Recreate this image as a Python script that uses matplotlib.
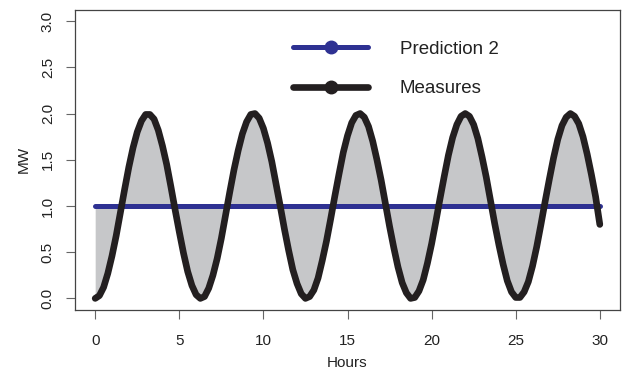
import numpy as np
import matplotlib
matplotlib.use("Agg")
import matplotlib.pyplot as plt

plt.rcParams['font.family'] = ['Liberation Sans', 'DejaVu Sans']

# hourly grid (quarter hours) and values
hours = np.arange(0, 30.01, 0.25)
measures = [0.00, 0.03, 0.12, 0.27, 0.46, 0.68, 0.93, 1.18, 1.42, 1.63, 1.80, 1.92,
            1.99, 1.99, 1.94, 1.82, 1.65, 1.45, 1.21, 0.96, 0.72, 0.49, 0.29, 0.14,
            0.04, 0.00, 0.02, 0.11, 0.25, 0.43, 0.65, 0.90, 1.15, 1.39, 1.60, 1.78,
            1.91, 1.99, 2.00, 1.95, 1.84, 1.68, 1.48, 1.24, 1.00, 0.75, 0.52, 0.31,
            0.16, 0.05, 0.00, 0.02, 0.09, 0.22, 0.41, 0.62, 0.86, 1.11, 1.35, 1.58,
            1.76, 1.90, 1.98, 2.00, 1.96, 1.86, 1.70, 1.50, 1.28, 1.03, 0.78, 0.55,
            0.34, 0.17, 0.06, 0.00, 0.01, 0.08, 0.20, 0.38, 0.59, 0.83, 1.08, 1.32,
            1.55, 1.74, 1.88, 1.97, 2.00, 1.97, 1.88, 1.73, 1.53, 1.31, 1.06, 0.81,
            0.58, 0.37, 0.19, 0.07, 0.01, 0.01, 0.07, 0.18, 0.35, 0.56, 0.80, 1.05,
            1.29, 1.52, 1.72, 1.87, 1.96, 2.00, 1.97, 1.89, 1.75, 1.56, 1.34, 1.10,
            0.80]
prediction = [1.0] * len(measures)

blue = "#2E3192"
black = "#231F20"
grey = "#C6C7C9"

fig = plt.figure(figsize=(6.22, 3.72), dpi=100)
ax = fig.add_axes([75/622, 1-309.5/372, 545/622, 299.5/372])

ax.fill_between(hours, measures, prediction, color=grey, lw=0, zorder=1)
ax.plot(hours, prediction, color=blue, lw=3.6, solid_capstyle='round', zorder=2)
ax.plot(hours, measures, color=black, lw=4.8, solid_capstyle='round', zorder=3)

ax.set_xlim(-1.2, 31.2)
ax.set_ylim(-0.12, 3.12)
ax.set_xticks([0, 5, 10, 15, 20, 25, 30])
ax.set_yticks([0.0, 0.5, 1.0, 1.5, 2.0, 2.5, 3.0])
ax.set_yticklabels(["0.0", "0.5", "1.0", "1.5", "2.0", "2.5", "3.0"], rotation=90, va='center')
ax.tick_params(direction='out', length=6.5, width=0.8, colors='#666666', labelcolor='#222222',
               labelsize=11, pad=8)
ax.tick_params(axis='x', pad=11)
for s in ax.spines.values():
    s.set_color('#444444')
    s.set_linewidth(0.9)

ax.set_xlabel("Hours", fontsize=11, color='#222222', labelpad=6)
ax.set_ylabel("MW", fontsize=11, color='#222222', labelpad=7)

h1, = ax.plot([], [], color=blue, lw=3.6, marker='o', markersize=9, solid_capstyle='round')
h2, = ax.plot([], [], color=black, lw=4.8, marker='o', markersize=9, solid_capstyle='round')
leg = ax.legend([h1, h2], ["Prediction 2", "Measures"], loc='upper left',
                bbox_to_anchor=(0.4, 0.898), frameon=False, fontsize=13.5,
                handlelength=4, handletextpad=1.7, labelspacing=1.2,
                borderpad=0, borderaxespad=0, numpoints=1)
for t in leg.get_texts():
    t.set_color('#222222')

fig.savefig("out.png", dpi=100)
